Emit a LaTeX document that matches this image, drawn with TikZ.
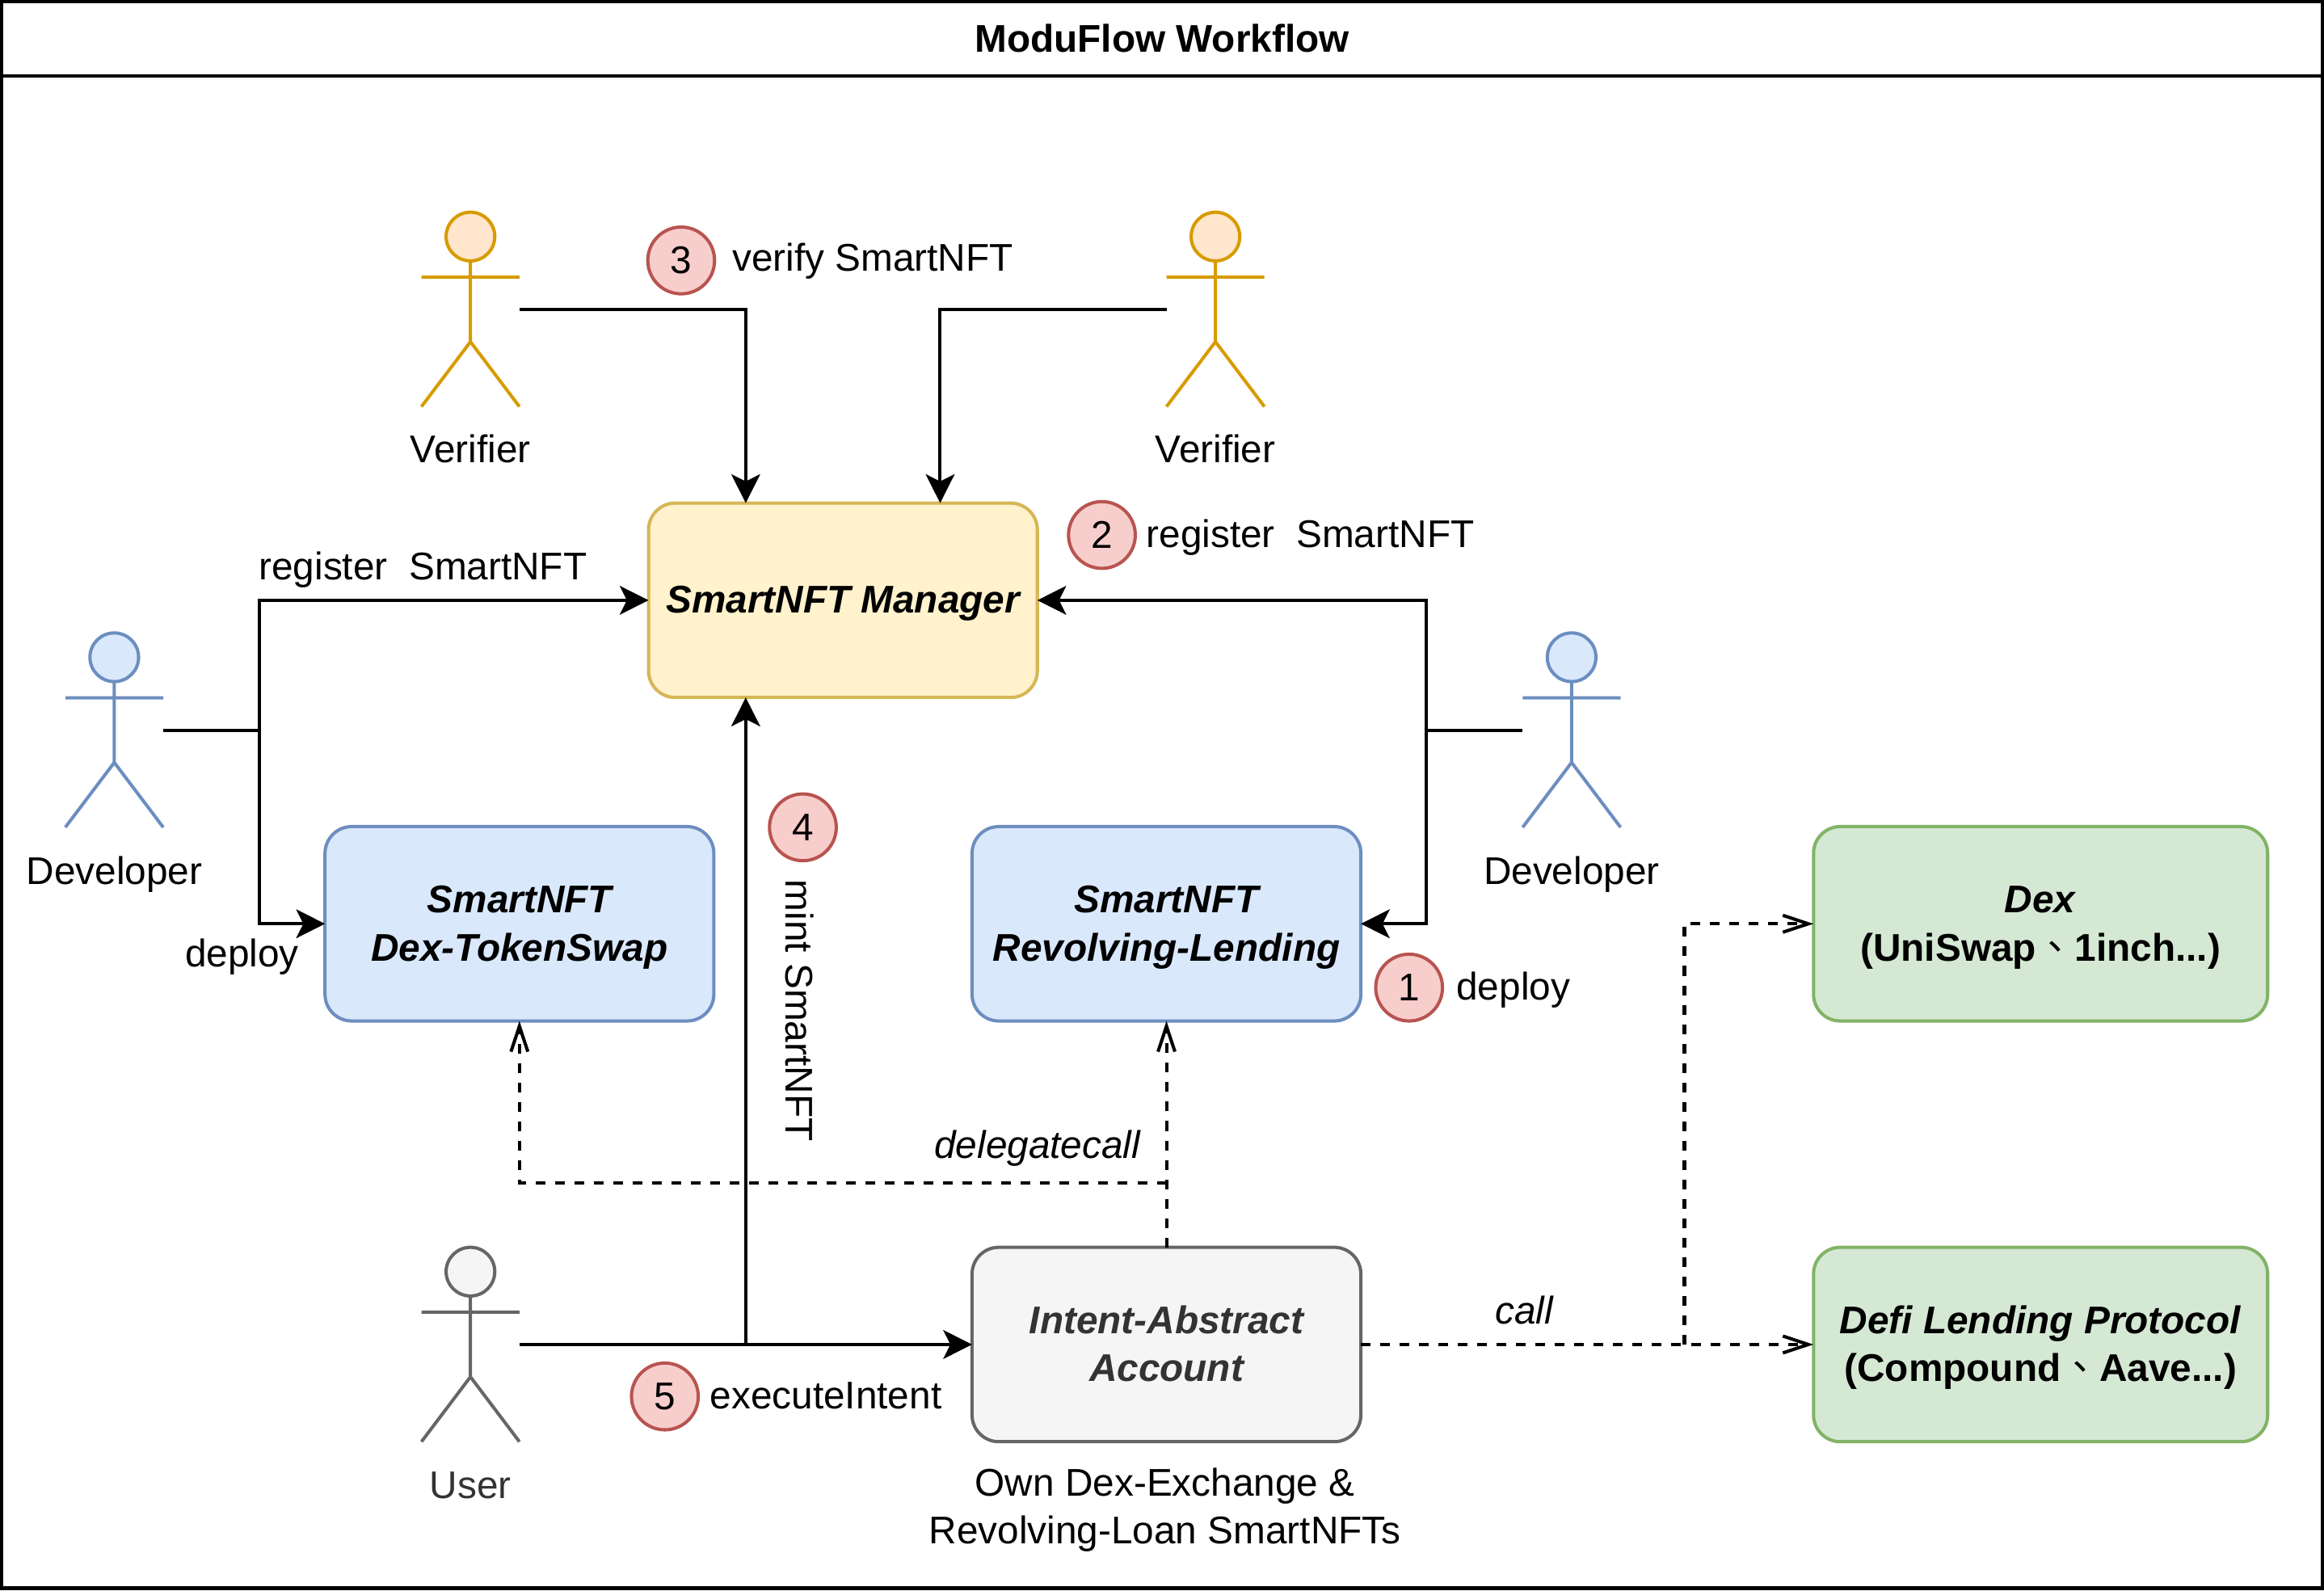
\documentclass[tikz,border=0pt]{standalone}
\usepackage{fontspec}
\setmainfont{Liberation Sans}
\newfontfamily\cjk{Noto Sans CJK TC}
\usetikzlibrary{arrows.meta,calc,positioning}
\definecolor{mgrfill}{HTML}{FFF2CC}
\definecolor{mgrline}{HTML}{D6B656}
\definecolor{nftfill}{HTML}{DAE8FC}
\definecolor{nftline}{HTML}{6C8EBF}
\definecolor{extfill}{HTML}{D5E8D4}
\definecolor{extline}{HTML}{82B366}
\definecolor{accfill}{HTML}{F5F5F5}
\definecolor{accline}{HTML}{666666}
\definecolor{acctext}{HTML}{333333}
\definecolor{verfill}{HTML}{FFE6CC}
\definecolor{verline}{HTML}{D79B00}
\definecolor{numfill}{HTML}{F8CECC}
\definecolor{numline}{HTML}{B85450}
\newcommand{\topline}{\rule{0pt}{11.4pt}}
\newcommand{\lowline}{\rule[-2.7pt]{0pt}{2.7pt}}
\tikzset{
		>={Stealth[length=9.7pt,width=9.7pt,inset=2.4pt]},
		box/.style={rectangle,rounded corners=9pt,line width=1.1pt,outer sep=0pt,
			minimum width=131pt,minimum height=65.5pt,align=center,
			font=\fontsize{13}{16.25}\selectfont\bfseries\itshape},
		wide/.style={box,minimum width=153pt,font=\fontsize{13}{16.25}\selectfont\bfseries},
		txt/.style={font=\fontsize{13}{16.25}\selectfont,align=center,inner sep=0pt},
		num/.style={circle,draw=numline,fill=numfill,line width=1.1pt,minimum size=22.5pt,inner sep=0pt,txt},
		flow/.style={->,line width=1.1pt},
		call/.style={-{Straight Barb[length=8.6pt,width=5.7pt]},line width=1.1pt,dash pattern=on 3.27pt off 3.27pt},
		figure/.style={minimum width=33pt,minimum height=65.5pt,inner sep=0pt,outer sep=0pt}
	}
\begin{document}
\begin{tikzpicture}[x=0.5pt,y=-0.5pt]
	\useasboundingbox (0,0) rectangle (1566,1071.6);

	% frame
	\node[rectangle,draw,line width=1.1pt,minimum width=782pt,minimum height=534.6pt,outer sep=0pt,anchor=north west] (frame) at (1,1) {};
	\node[rectangle,draw,line width=1.1pt,minimum width=782pt,minimum height=25pt,outer sep=0pt,anchor=north west,
		txt,font=\fontsize{13}{16.25}\selectfont\bfseries] (title) at (1,1) {ModuFlow Workflow};

	% boxes
	\node[box,draw=mgrline,fill=mgrfill] (manager) at (568,404.5) {\topline SmartNFT Manager};
	\node[box,draw=nftline,fill=nftfill] (swap) at (350,622.5) {\topline SmartNFT\\Dex-TokenSwap\lowline};
	\node[box,draw=nftline,fill=nftfill] (lend) at (786,622.5) {\topline SmartNFT\\Revolving-Lending\lowline};
	\node[box,draw=accline,fill=accfill,text=acctext] (account) at (786,906) {\topline Intent-Abstract\\Account\lowline};
	\node[wide,draw=extline,fill=extfill] (dex) at (1375,622.5) {\topline\textit{Dex}\\(UniSwap{\cjk\mdseries 、}1inch...)\lowline};
	\node[wide,draw=extline,fill=extfill] (defi) at (1375,906) {\topline\textit{Defi Lending Protocol}\\(Compound{\cjk\mdseries 、}Aave...)\lowline};

	% people
	\node[figure] (verifierA) at (317,208.5) {};
	\node[figure] (verifierB) at (819,208.5) {};
	\node[figure] (developerA) at (77,492) {};
	\node[figure] (developerB) at (1059,492) {};
	\node[figure] (user) at (317,906) {};
	\foreach \who/\col/\lin in {verifierA/verfill/verline,verifierB/verfill/verline,developerA/nftfill/nftline,developerB/nftfill/nftline,user/accfill/accline}{
		\draw[line width=1.1pt,draw=\lin,fill=\col] ($(\who.north)+(0,16.4)$) circle [radius=8.2pt];
		\draw[line width=1.1pt,draw=\lin] ($(\who.north)+(0,32.7)$) -- ($(\who.north)+(0,87.3)$)
			($(\who.north west)+(0,43.7)$) -- ($(\who.north east)+(0,43.7)$)
			(\who.south west) -- ($(\who.north)+(0,87.3)$) -- (\who.south east);
	}
	\node[txt] (verifierAtext) at (317,302.5) {Verifier};
	\node[txt] (verifierBtext) at (819,302.5) {Verifier};
	\node[txt] (developerAtext) at (77,589) {Developer};
	\node[txt] (developerBtext) at (1059,589) {Developer};
	\node[txt,text=acctext] (usertext) at (317,1001) {User};

	% points where lines meet or split
	\coordinate (mgrA) at ($(manager.north west)!0.25!(manager.north east)$);
	\coordinate (mgrB) at ($(manager.north west)!0.75!(manager.north east)$);
	\coordinate (mgrC) at ($(manager.south west)!0.25!(manager.south east)$);
	\coordinate (joinA) at (175,492);
	\coordinate (joinB) at (961,492);
	\coordinate (joinC) at (mgrC |- user.east);
	\coordinate (joinD) at (account.north |- 0,797);
	\coordinate (joinE) at (1135,906);

	% solid lines
	\draw[flow] (verifierA.east) -| (mgrA);
	\draw[flow] (verifierB.west) -| (mgrB);
	\draw[flow] (developerA.east) -- (joinA) |- (manager.west);
	\draw[flow] (joinA) |- (swap.west);
	\draw[flow] (developerB.west) -- (joinB) |- (manager.east);
	\draw[flow] (joinB) |- (lend.east);
	\draw[flow] (user.east) -- (account.west);
	\draw[flow] (joinC) -- (mgrC);

	% dashed lines
	\draw[call] (account.north) -- (lend.south);
	\draw[call] (joinD) -| (swap.south);
	\draw[call] (account.east) -- (defi.west);
	\draw[call] (joinE) |- (dex.west);

	% numbers
	\node[num] (one) at (949.5,665.5) {1};
	\node[num] (two) at (742.5,360.5) {2};
	\node[num] (three) at (459,175.5) {3};
	\node[num] (four) at (541,557.5) {4};
	\node[num] (five) at (448,941) {5};

	% texts
	\node[txt,anchor=west] (deployB) at (981,667) {deploy};
	\node[txt,anchor=west] (registerB) at (772,362) {register\ \ SmartNFT};
	\node[txt,anchor=west] (verify) at (493,176) {verify SmartNFT};
	\node[txt,anchor=west] (execute) at (478,940.5) {executeIntent};
	\node[txt] (registerA) at (285,384) {register\ \ SmartNFT};
	\node[txt] (deployA) at (163,645) {deploy};
	\node[txt,rotate=-90] (mint) at (539,681) {mint SmartNFT};
	\node[txt,font=\fontsize{13}{16.25}\selectfont\itshape] (delegate) at (699,774) {delegatecall};
	\node[txt,font=\fontsize{13}{16.25}\selectfont\itshape] (calltext) at (1027,883) {call};
	\node[txt] (own) at (785,1017.5) {Own Dex-Exchange \&\\Revolving-Loan SmartNFTs};
\end{tikzpicture}
\end{document}
